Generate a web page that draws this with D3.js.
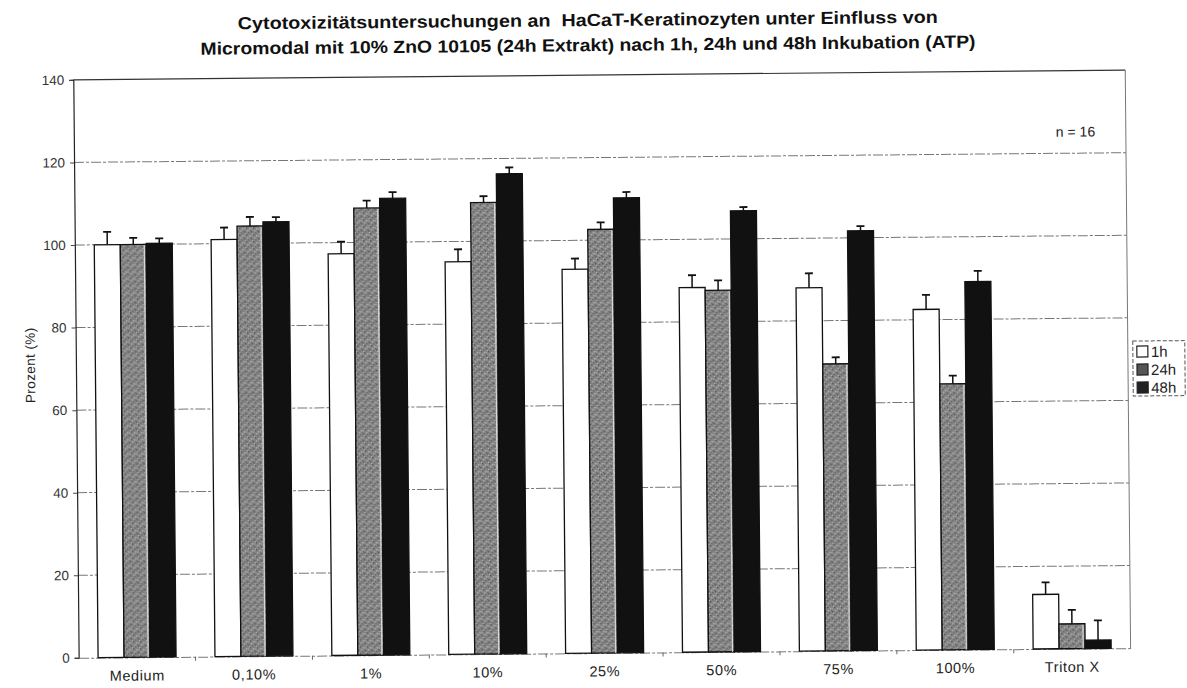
<!DOCTYPE html>
<html>
<head>
<meta charset="utf-8">
<script src="https://cdn.jsdelivr.net/npm/d3@7"></script>
<style>
  body { margin: 0; background: #fff; }
  svg { font-family: 'Liberation Sans', Arial, sans-serif; }
</style>
</head>
<body>
<svg id="chart" width="1187" height="688"></svg>
<script>
const categories = ['Medium', '0,10%', '1%', '10%', '25%', '50%', '75%', '100%', 'Triton X'];
const seriesNames = ['1h', '24h', '48h'];
const values1h = [100, 101, 97.3, 95.1, 93, 88.3, 88, 82.5, 13.2];
const values24h = [100, 104.2, 108.3, 109.4, 102.6, 87.6, 69.5, 64.4, 6];
const values48h = [100.2, 105.2, 110.6, 116.3, 110.2, 106.8, 101.7, 89.1, 2];
const err1h = [3.1, 2.9, 2.9, 3, 2.6, 3, 3.5, 3.5, 2.9];
const err24h = [1.6, 2.2, 1.8, 1.5, 1.7, 2.4, 1.6, 2, 3.4];
const err48h = [1.2, 1.1, 1.5, 1.5, 1.4, 0.9, 1.1, 2.6, 4.8];
const yTicks = [0, 20, 40, 60, 80, 100, 120, 140];
const titleLines = [
  'Cytotoxizitätsuntersuchungen an  HaCaT-Keratinozyten unter Einfluss von',
  'Micromodal mit 10% ZnO 10105 (24h Extrakt) nach 1h, 24h und 48h Inkubation (ATP)'
];
const titleWidths = [700, 775];

const allValues = [values1h, values24h, values48h];
const allErrors = [err1h, err24h, err48h];

const margin = { left: 76, right: 59, top: 75, bottom: 35 };
const W = 1187, H = 688;

const svg = d3.select('#chart');

// pattern for the grey (24h) bars - scanned dither look
const defs = svg.append('defs');
const pat = defs.append('pattern')
    .attr('id', 'grey')
    .attr('patternUnits', 'userSpaceOnUse')
    .attr('width', 7).attr('height', 7);
pat.append('rect').attr('width', 7).attr('height', 7).attr('fill', '#858585');
[[0, 0, '#555'], [3, 1, '#b0b0b0'], [1, 3, '#aaa'], [5, 4, '#5a5a5a'], [2, 5, '#666'], [5, 1, '#9a9a9a'], [6, 6, '#b8b8b8'], [4, 3, '#6a6a6a']]
  .forEach(([x, y, c]) => pat.append('rect').attr('x', x).attr('y', y).attr('width', 1.4).attr('height', 1.4).attr('fill', c));

const fills = ['#ffffff', 'url(#grey)', '#111111'];

// whole page slightly rotated like the scanned original
const root = svg.append('g').attr('transform', 'rotate(-0.53 600 370)');

const x0 = d3.scaleBand()
    .domain(categories)
    .range([margin.left, W - margin.right]);
const x1 = d3.scaleBand()
    .domain(seriesNames)
    .range([0, 78]);
const y = d3.scaleLinear()
    .domain([0, 140])
    .range([H - margin.bottom, margin.top]);

// title
root.append('g').selectAll('text')
  .data(titleLines)
  .join('text')
    .attr('x', 591)
    .attr('y', (d, i) => 26 + i * 25)
    .attr('text-anchor', 'middle')
    .attr('font-weight', 'bold')
    .attr('font-size', 17.5)
    .attr('fill', '#111')
    .attr('textLength', (d, i) => titleWidths[i])
    .attr('lengthAdjust', 'spacingAndGlyphs')
    .style('white-space', 'pre')
    .text(d => d);

// gridlines
root.append('g').selectAll('line')
  .data(yTicks.filter(t => t > 0 && t < 140))
  .join('line')
    .attr('x1', margin.left).attr('x2', W - margin.right)
    .attr('y1', d => y(d)).attr('y2', d => y(d))
    .attr('stroke', '#777')
    .attr('stroke-width', 1)
    .attr('stroke-dasharray', '10,2,3,2');

// top line + right border
root.append('line')
    .attr('x1', margin.left).attr('x2', W - margin.right)
    .attr('y1', y(140)).attr('y2', y(140))
    .attr('stroke', '#333').attr('stroke-width', 1.2);
root.append('line')
    .attr('x1', W - margin.right).attr('x2', W - margin.right)
    .attr('y1', y(140)).attr('y2', y(0))
    .attr('stroke', '#777').attr('stroke-width', 1);

// y axis
const yAxis = root.append('g')
    .attr('transform', `translate(${margin.left},0)`)
    .call(d3.axisLeft(y).tickValues(yTicks).tickSize(4).tickPadding(5));
yAxis.select('.domain').attr('stroke', '#222').attr('stroke-width', 1.2);
yAxis.selectAll('.tick line').attr('stroke', '#444');
yAxis.selectAll('text')
    .attr('font-size', 13.5)
    .attr('font-family', "'Liberation Sans', Arial, sans-serif")
    .attr('fill', '#333');

root.append('text')
    .attr('transform', `translate(35,360) rotate(-90)`)
    .attr('text-anchor', 'middle')
    .attr('font-size', 13.5)
    .attr('fill', '#222')
    .attr('letter-spacing', 0.4)
    .text('Prozent (%)');

// x axis
const xAxis = root.append('g')
    .attr('transform', `translate(0,${y(0)})`)
    .call(d3.axisBottom(x0).tickSize(0).tickPadding(13));
xAxis.select('.domain')
    .attr('stroke', '#777')
    .attr('stroke-dasharray', '10,2,3,2');
xAxis.selectAll('text')
    .attr('font-size', 14.5)
    .attr('letter-spacing', 0.6)
    .attr('font-family', "'Liberation Sans', Arial, sans-serif")
    .attr('fill', '#222');
// small ticks between categories
xAxis.append('g').selectAll('line')
  .data(categories.slice(1))
  .join('line')
    .attr('x1', d => x0(d)).attr('x2', d => x0(d))
    .attr('y1', 0).attr('y2', 4)
    .attr('stroke', '#666');

// bars
const groups = root.append('g').selectAll('g')
  .data(categories)
  .join('g')
    .attr('transform', d => `translate(${x0(d) + (x0.bandwidth() - 78) / 2},0)`);

const cells = (cat, ci) => seriesNames.map((s, si) => ({
  s, si, v: allValues[si][ci], e: allErrors[si][ci]
}));

const bar = groups.selectAll('g.bar')
  .data((d, i) => cells(d, i))
  .join('g')
    .attr('class', 'bar');

bar.append('rect')
    .attr('x', d => x1(d.s))
    .attr('y', d => y(d.v))
    .attr('width', x1.bandwidth())
    .attr('height', d => y(0) - y(d.v))
    .attr('fill', d => fills[d.si])
    .attr('stroke', '#111')
    .attr('stroke-width', 1.3);

// light edge on grey bars
bar.filter(d => d.si === 1).append('line')
    .attr('x1', d => x1(d.s) + x1.bandwidth() - 2)
    .attr('x2', d => x1(d.s) + x1.bandwidth() - 2)
    .attr('y1', d => y(d.v) + 1)
    .attr('y2', y(0))
    .attr('stroke', '#d8d8d8')
    .attr('stroke-width', 1.2);

// error bars
bar.append('line')
    .attr('x1', d => x1(d.s) + x1.bandwidth() / 2)
    .attr('x2', d => x1(d.s) + x1.bandwidth() / 2)
    .attr('y1', d => y(d.v))
    .attr('y2', d => y(d.v + d.e))
    .attr('stroke', '#111')
    .attr('stroke-width', 1.5);
bar.append('line')
    .attr('x1', d => x1(d.s) + x1.bandwidth() / 2 - 4)
    .attr('x2', d => x1(d.s) + x1.bandwidth() / 2 + 4)
    .attr('y1', d => y(d.v + d.e))
    .attr('y2', d => y(d.v + d.e))
    .attr('stroke', '#111')
    .attr('stroke-width', 1.8);

// n = 16
root.append('text')
    .attr('x', 1058).attr('y', 141)
    .attr('font-size', 14)
    .attr('fill', '#222')
    .text('n = 16');

// legend
const lg = root.append('g').attr('transform', 'translate(1133,346)');
lg.append('rect')
    .attr('width', 52).attr('height', 55)
    .attr('fill', '#fff')
    .attr('stroke', '#555')
    .attr('stroke-dasharray', '4,2');
const li = lg.selectAll('g.item')
  .data(seriesNames)
  .join('g')
    .attr('class', 'item')
    .attr('transform', (d, i) => `translate(4,${10 + i * 18})`);
li.append('rect')
    .attr('y', -5)
    .attr('width', 11).attr('height', 11)
    .attr('fill', (d, i) => i === 0 ? '#fff' : i === 1 ? '#555' : '#222')
    .attr('stroke', '#222')
    .attr('stroke-width', 1.2);
li.append('text')
    .attr('x', 14).attr('y', 6)
    .attr('font-size', 15)
    .attr('fill', '#222')
    .text(d => d);
</script>
</body>
</html>
